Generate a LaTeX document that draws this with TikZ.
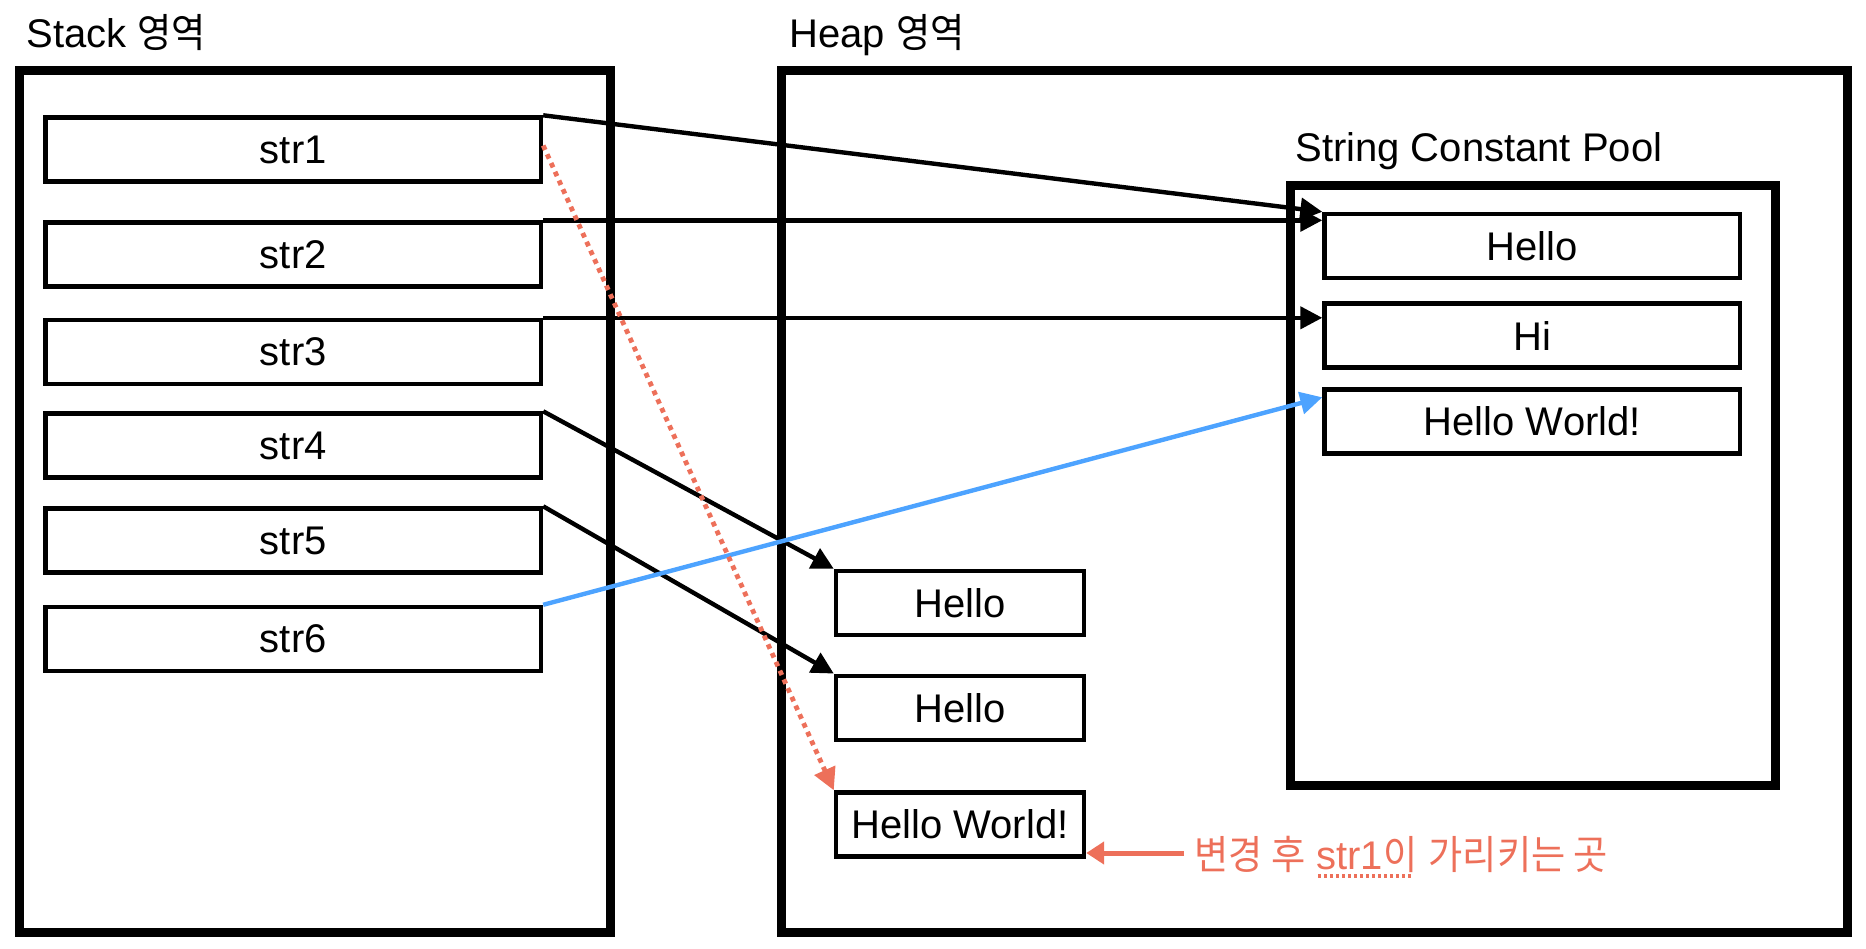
\documentclass[tikz,border=0pt]{standalone}
\usepackage{fontspec}
\setmainfont{Liberation Sans}
\newfontfamily\kr{Noto Sans CJK KR}[FakeStretch=0.93]
\usetikzlibrary{arrows.meta}
\definecolor{memred}{RGB}{237,112,90}
\definecolor{memblue}{RGB}{77,163,255}
\newsavebox\spellbox
\newcommand\spellmark[1]{\sbox\spellbox{#1}\rlap{\raisebox{-0.2em}{\leaders\hbox to 0.15em{\hss\rule{0.08em}{0.08em}\hss}\hskip\wd\spellbox}}\usebox\spellbox}

\tikzset{
    area/.style={line width=4.5pt},
    cell/.style={draw, line width=2.2pt, minimum height=32pt, inner sep=0pt},
    title/.style={anchor=base west, inner sep=0pt},
    ref/.style={->, line width=2.2pt},
}

\begin{document}
\begin{tikzpicture}[x=0.5pt, y=-0.5pt, font=\fontsize{20pt}{24pt}\selectfont, >={Triangle[length=11pt,width=11pt]}]
    \useasboundingbox (0,0) rectangle (1866,948);

    % memory areas
    \draw[area] (19,70) rectangle (610,932);
    \draw[area] (781,70) rectangle (1847,932);
    \draw[area] (1290,185.5) rectangle (1775,785);
    \node[title] (stacklbl) at (26,47) {Stack {\kr 영역}};
    \node[title] (heaplbl) at (789,47) {Heap {\kr 영역}};
    \node[title] (poollbl) at (1295,161) {String Constant Pool};

    % stack variables
    \foreach \i/\y in {1/149.5,2/254.5,3/352,4/445.5,5/540.5,6/639}
        \node[cell, minimum width=247.75pt] (s\i) at (293.25,\y) {str\i};

    % string constant pool
    \node[cell, minimum width=207.75pt] (ph) at (1532.25,246) {Hello};
    \node[cell, minimum width=207.75pt] (phi) at (1532.25,335.5) {Hi};
    \node[cell, minimum width=207.75pt] (phw) at (1532.25,421.5) {Hello World!};

    % heap objects
    \node[cell, minimum width=124pt] (hh1) at (960,603) {Hello};
    \node[cell, minimum width=124pt] (hh2) at (960,707.75) {Hello};
    \node[cell, minimum width=124pt] (hhw) at (960,824.5) {Hello World!};

    \node[anchor=west, inner xsep=5pt, inner ysep=0pt, text=memred] (note) at (1184,857) {{\kr 변경 후} \spellmark{str1{\kr 이}} {\kr 가리키는 곳}};

    \draw[ref] (s1.north east) -- (ph.north west);
    \draw[ref] (s2.north east) -- (s2.north east -| ph.west);
    \draw[ref] (s3.north east) -- (s3.north east -| phi.west);
    \draw[ref] (s4.north east) -- (hh1.north west);
    \draw[ref] (s5.north east) -- (hh2.north west);
    \draw[ref, memblue] (s6.north east) -- ([yshift=-5pt]phw.north west);
    \draw[ref, memred, line width=2.4pt, dash pattern=on 2.4pt off 2.4pt] ([yshift=2pt]s1.east) -- (hhw.north west);
    \draw[->, memred, line width=2.5pt, >={Triangle[length=9pt,width=11pt]}] ([yshift=2pt]note.west) -- ([yshift=2pt]note.west -| hhw.east);
\end{tikzpicture}
\end{document}
